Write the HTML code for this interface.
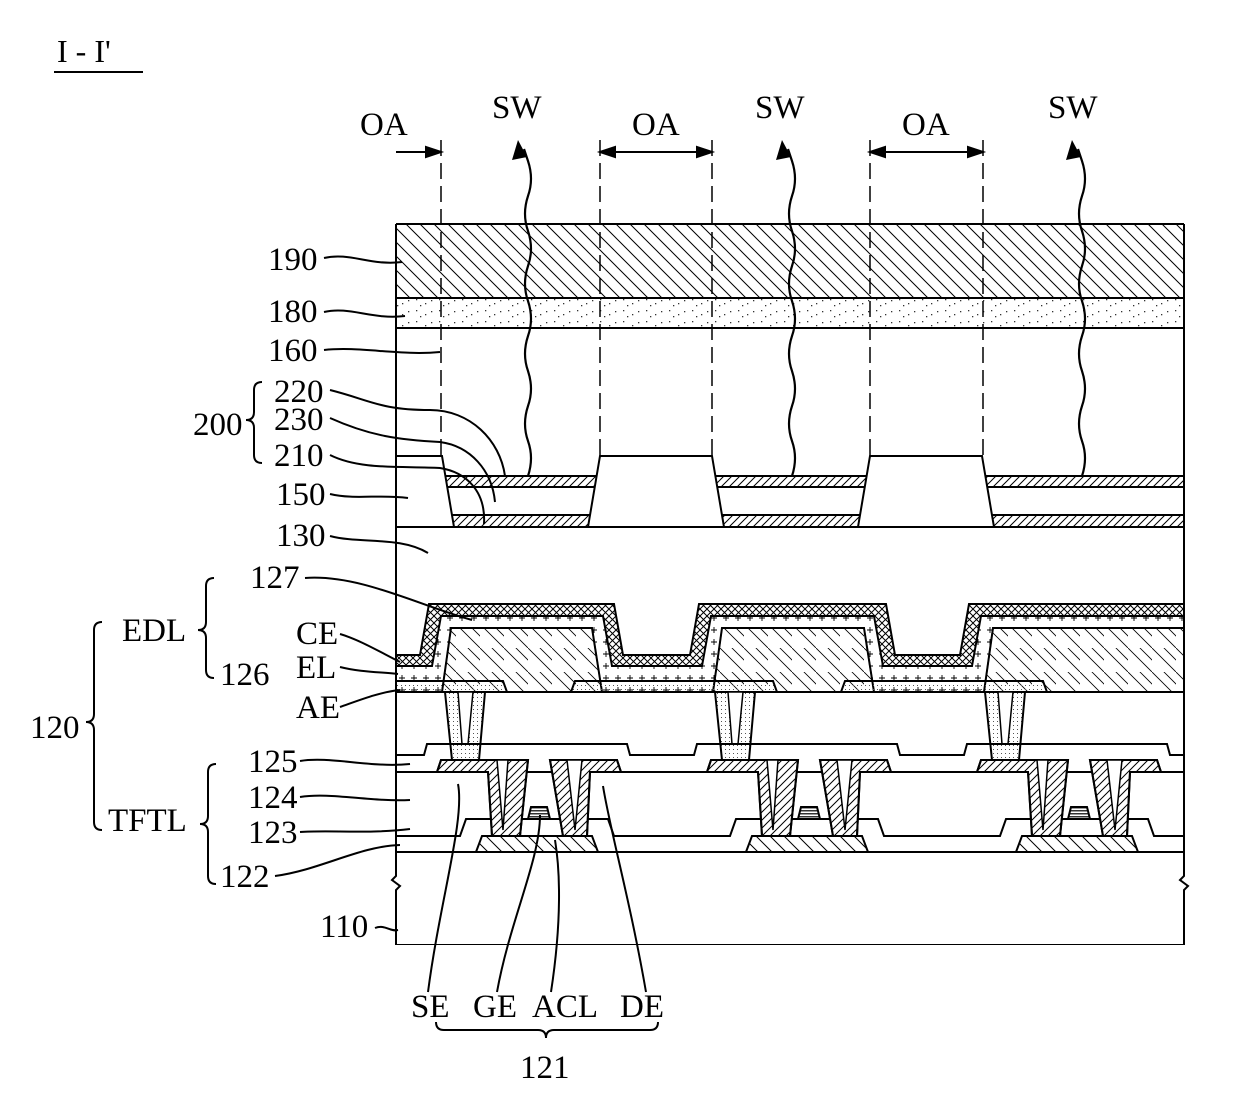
<!DOCTYPE html>
<html><head><meta charset="utf-8"><style>
html,body{margin:0;padding:0;background:#fff}
svg{display:block}
text{font-family:"Liberation Serif",serif;font-size:33px;fill:#000}
</style></head><body>
<svg width="1240" height="1094" viewBox="0 0 1240 1094" xmlns="http://www.w3.org/2000/svg">
<defs>
<pattern id="bs" width="14" height="14" patternUnits="userSpaceOnUse"><path d="M-2,-2 L16,16 M-9,5 L9,23 M5,-9 L23,9" stroke="#000" stroke-width="1"/></pattern>
<pattern id="fs" width="8" height="8" patternUnits="userSpaceOnUse"><path d="M-2,10 L10,-2 M-2,2 L2,-2 M6,10 L10,6" stroke="#000" stroke-width="1"/></pattern>
<pattern id="cx" width="7" height="7" patternUnits="userSpaceOnUse"><path d="M0,0 L7,7 M7,0 L0,7" stroke="#000" stroke-width="1"/></pattern>
<pattern id="pl" width="12" height="12" patternUnits="userSpaceOnUse"><path d="M6,3 V9 M3,6 H9" stroke="#000" stroke-width="0.9"/></pattern>
<pattern id="dt" width="4" height="4" patternUnits="userSpaceOnUse"><rect x="1" y="1" width="1" height="1" fill="#555"/></pattern>
<pattern id="sp" width="23" height="11" patternUnits="userSpaceOnUse"><rect x="2" y="2" width="1.3" height="1.3" fill="#333"/><rect x="11" y="6" width="1.3" height="1.3" fill="#333"/><rect x="17" y="3" width="1.3" height="1.3" fill="#333"/><rect x="6" y="8" width="1.3" height="1.3" fill="#333"/></pattern>
<pattern id="bk" width="24" height="24" patternUnits="userSpaceOnUse"><path d="M-2,-2 L26,26 M10,-2 L26,14" stroke="#000" stroke-width="0.8"/></pattern>
<pattern id="gs" width="4" height="3" patternUnits="userSpaceOnUse"><rect width="4" height="1.5" fill="#333"/></pattern>
<clipPath id="box"><rect x="396" y="224" width="788" height="721"/></clipPath>
</defs>

<!-- title -->
<text x="57" y="62" style="font-size:32px">I - I'</text>
<line x1="54" y1="72" x2="143" y2="72" stroke="#000" stroke-width="2"/>

<g clip-path="url(#box)" stroke="#000" stroke-width="2">
<rect x="396" y="224" width="788" height="74" fill="url(#bs)"/>
<rect x="396" y="298" width="788" height="30" fill="url(#sp)"/>
<rect x="396" y="476" width="788" height="11" fill="url(#fs)"/>
<rect x="396" y="515" width="788" height="12" fill="url(#fs)"/>
<line x1="396" y1="487" x2="1184" y2="487"/>
<g fill="#fff">
<polygon points="318,527 330,456 442,456 454,527"/>
<polygon points="588,527 600,456 712,456 724,527"/>
<polygon points="858,527 870,456 982,456 994,527"/>
</g>
<!-- EDL -->
<polygon fill="url(#cx)" points="100,692 100,655 150,655 159,604 343,604 352,655 420,655 429,604 614,604 623,655 690,655 699,604 886,604 895,655 960,655 969,604 1300,604 1300,692"/>
<polygon fill="#fff" stroke="none" points="100,692 100,666 162,666 171,616 331,616 340,666 432,666 441,616 603,616 612,666 702,666 711,616 874,616 883,666 972,666 981,616 1300,616 1300,692"/>
<polygon fill="url(#pl)" points="100,692 100,666 162,666 171,616 331,616 340,666 432,666 441,616 603,616 612,666 702,666 711,616 874,616 883,666 972,666 981,616 1300,616 1300,692"/>
<g fill="#fff"><polygon points="172,692 181,628 320,628 330,692"/><polygon points="442,692 451,628 592,628 602,692"/><polygon points="713,692 722,628 864,628 874,692"/><polygon points="984,692 993,628 1300,628 1300,692"/></g>
<g fill="url(#bk)" stroke-width="1.5"><polygon points="172,692 181,628 320,628 330,692"/><polygon points="442,692 451,628 592,628 602,692"/><polygon points="713,692 722,628 864,628 874,692"/><polygon points="984,692 993,628 1300,628 1300,692"/></g>
<!-- 125 region -->
<rect x="396" y="692" width="788" height="80" fill="#fff"/>
<polygon fill="url(#dt)" points="301,692 305,681 503,681 507,692 485,692 479,760 452,760 445,692"/>
<polygon fill="#fff" stroke-width="1.5" points="458,692 462,744 468,744 473,692"/>
<polygon fill="url(#dt)" points="571,692 575,681 773,681 777,692 755,692 749,760 722,760 715,692"/>
<polygon fill="#fff" stroke-width="1.5" points="728,692 732,744 738,744 743,692"/>
<polygon fill="url(#dt)" points="841,692 845,681 1043,681 1047,692 1025,692 1019,760 992,760 985,692"/>
<polygon fill="#fff" stroke-width="1.5" points="998,692 1002,744 1008,744 1013,692"/>
<polyline fill="none" points="396,755 424,755 427,744 627,744 630,755 694,755 697,744 897,744 900,755 964,755 967,744 1167,744 1170,755 1190,755"/>
<!-- TFT -->
<rect x="396" y="772" width="788" height="80" fill="#fff"/>
<line x1="396" y1="772" x2="1184" y2="772"/>
<polyline fill="none" points="396,836 460,836 466,819 608,819 614,836 730,836 736,819 878,819 884,836 1000,836 1006,819 1148,819 1154,836 1190,836"/>
<g id="tft">
<polygon fill="url(#bs)" points="476,852 482,836 592,836 598,852"/>
<polygon fill="url(#gs)" points="528,819 531,807 547,807 550,819"/>
<polygon fill="#fff" points="437,772 441,760 528,760 520,836 492,836 488,772"/>
<polygon fill="url(#fs)" points="437,772 441,760 528,760 520,836 492,836 488,772"/>
<polygon fill="#fff" stroke-width="1.5" points="497,760 508,760 503,830"/>
<polygon fill="#fff" points="550,760 617,760 621,772 590,772 587,836 563,836"/>
<polygon fill="url(#fs)" points="550,760 617,760 621,772 590,772 587,836 563,836"/>
<polygon fill="#fff" stroke-width="1.5" points="567,760 582,760 575,830"/>
</g>
<use href="#tft" transform="translate(270,0)"/>
<use href="#tft" transform="translate(540,0)"/>
<line x1="396" y1="852" x2="1184" y2="852"/>
<line x1="396" y1="945" x2="1184" y2="945"/>
<line x1="396" y1="298" x2="1184" y2="298"/>
<line x1="396" y1="328" x2="1184" y2="328"/>
</g>
<!-- outline -->
<g stroke="#000" stroke-width="2" fill="none">
<line x1="396" y1="224" x2="1184" y2="224"/>
<polyline points="396,224 396,876 392,880 400,886 396,890 396,945"/>
<polyline points="1184,224 1184,876 1180,880 1188,886 1184,890 1184,945"/>
</g>
<!-- dashed -->
<g stroke="#000" stroke-width="1.5" stroke-dasharray="16,7">
<line x1="441" y1="140" x2="441" y2="456"/>
<line x1="600" y1="140" x2="600" y2="456"/>
<line x1="712" y1="140" x2="712" y2="456"/>
<line x1="870" y1="140" x2="870" y2="456"/>
<line x1="983" y1="140" x2="983" y2="456"/>
</g>
<!-- OA arrows -->
<g stroke="#000" stroke-width="2">
<line x1="396" y1="152" x2="430" y2="152"/><polygon points="441,152 426,147 426,157"/>
<line x1="612" y1="152" x2="700" y2="152"/><polygon points="600,152 615,147 615,157"/><polygon points="712,152 697,147 697,157"/>
<line x1="882" y1="152" x2="971" y2="152"/><polygon points="870,152 885,147 885,157"/><polygon points="983,152 968,147 968,157"/>
</g>
<!-- SW waves -->
<g stroke="#000" stroke-width="2.2" fill="none">
<path d="M528,476 q6,-18 0,-35 q-6,-17 0,-35 q6,-17 0,-35 q-6,-17 0,-35 q6,-17 0,-35 q-6,-17 0,-35 q6,-17 0,-35 q-6,-17 0,-35 q6,-17 0,-35 l-4,-12"/>
<path d="M792,476 q6,-18 0,-35 q-6,-17 0,-35 q6,-17 0,-35 q-6,-17 0,-35 q6,-17 0,-35 q-6,-17 0,-35 q6,-17 0,-35 q-6,-17 0,-35 q6,-17 0,-35 l-4,-12"/>
<path d="M1082,476 q6,-18 0,-35 q-6,-17 0,-35 q6,-17 0,-35 q-6,-17 0,-35 q6,-17 0,-35 q-6,-17 0,-35 q6,-17 0,-35 q-6,-17 0,-35 q6,-17 0,-35 l-4,-12"/>
</g>
<polygon points="518,140 512,160 527,157" fill="#000"/>
<polygon points="782,140 776,160 791,157" fill="#000"/>
<polygon points="1072,140 1066,160 1081,157" fill="#000"/>
<text x="360" y="135">OA</text><text x="492" y="118">SW</text>
<text x="632" y="135">OA</text><text x="755" y="118">SW</text>
<text x="902" y="135">OA</text><text x="1048" y="118">SW</text>
<!-- labels -->
<text x="268" y="270">190</text><text x="268" y="322">180</text><text x="268" y="361">160</text>
<text x="274" y="402">220</text><text x="274" y="430">230</text><text x="274" y="466">210</text>
<text x="276" y="505">150</text><text x="276" y="546">130</text><text x="193" y="435">200</text>
<text x="250" y="588">127</text><text x="122" y="641">EDL</text><text x="220" y="685">126</text>
<text x="296" y="644">CE</text><text x="296" y="678">EL</text><text x="296" y="718">AE</text>
<text x="30" y="738">120</text><text x="248" y="772">125</text><text x="248" y="808">124</text>
<text x="108" y="831">TFTL</text><text x="248" y="843">123</text><text x="220" y="887">122</text>
<text x="320" y="937">110</text>
<text x="411" y="1017">SE</text><text x="473" y="1017">GE</text><text x="532" y="1017">ACL</text><text x="620" y="1017">DE</text>
<text x="520" y="1078">121</text>
<!-- braces -->
<g stroke="#000" stroke-width="2" fill="none">
<path d="M262,382 q-8,0 -8,8 L254,412 q0,8 -8,8 q8,0 8,8 L254,455 q0,8 8,8"/>
<path d="M214,578 q-8,0 -8,8 L206,622 q0,8 -8,8 q8,0 8,8 L206,670 q0,8 8,8"/>
<path d="M102,622 q-8,0 -8,8 L94,714 q0,8 -8,8 q8,0 8,8 L94,822 q0,8 8,8"/>
<path d="M216,764 q-8,0 -8,8 L208,816 q0,8 -8,8 q8,0 8,8 L208,876 q0,8 8,8"/>
<path d="M436,1022 q0,8 8,8 L538,1030 q8,0 8,8 q0,-8 8,-8 L650,1030 q8,0 8,-8"/>
<!-- leaders -->
<path d="M324,258 C350,252 370,266 402,262"/>
<path d="M324,312 C350,306 372,320 405,316"/>
<path d="M324,350 C360,346 400,356 440,352"/>
<path d="M330,390 C370,400 380,410 430,410 C470,410 500,440 505,476"/>
<path d="M330,418 C370,436 400,440 440,442 C470,446 492,470 495,502"/>
<path d="M330,455 C360,470 400,466 440,468 C465,472 486,490 484,524"/>
<path d="M330,494 C355,500 380,494 408,498"/>
<path d="M330,536 C360,544 400,536 428,553"/>
<path d="M305,578 C360,574 420,606 472,620"/>
<path d="M340,634 C360,640 380,652 400,662"/>
<path d="M340,667 C360,672 380,672 398,674"/>
<path d="M340,707 C360,700 380,692 400,690"/>
<path d="M300,761 C330,756 370,768 410,764"/>
<path d="M300,797 C330,792 370,802 410,800"/>
<path d="M300,832 C330,830 370,834 410,829"/>
<path d="M275,876 C320,870 360,846 400,845"/>
<path d="M375,928 C385,924 390,932 398,930"/>
<path d="M428,992 C440,900 465,820 458,784"/>
<path d="M497,992 C510,920 540,860 540,815"/>
<path d="M551,992 C562,920 560,870 555,840"/>
<path d="M646,992 C630,900 610,830 603,786"/>
</g>
</svg>
</body></html>
